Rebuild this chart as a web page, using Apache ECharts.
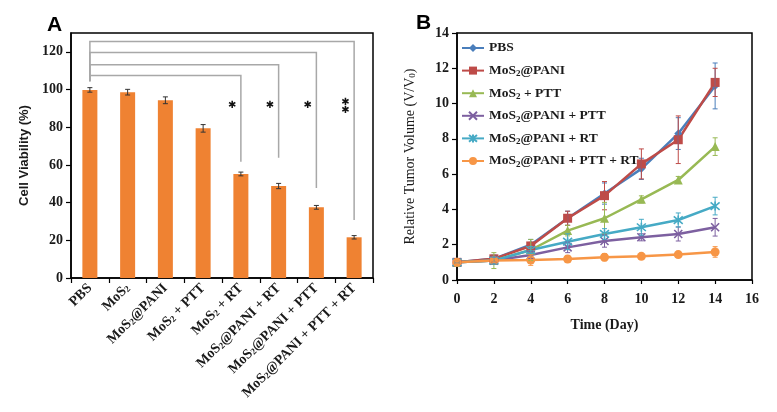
<!DOCTYPE html>
<html>
<head>
<meta charset="utf-8">
<script src="https://cdn.jsdelivr.net/npm/echarts@6/dist/echarts.min.js"></script>
<style>
  html, body { margin: 0; padding: 0; background: #fff; }
  #chart { width: 777px; height: 412px; }
</style>
</head>
<body>
<div id="chart"></div>
<script>
// Panel A: cell viability bars
const groupsA = ["PBS", "MoS2", "MoS2@PANI", "MoS2 + PTT", "MoS2 + RT",
  "MoS2@PANI + RT", "MoS2@PANI + PTT", "MoS2@PANI + PTT + RT"];
const viability = [99.8, 98.6, 94.3, 79.4, 55.2, 48.8, 37.5, 21.6];
const viabilityErr = [1.2, 1.5, 1.8, 2.0, 1.0, 1.4, 1.0, 0.9];
// significance brackets: [from, to, level, drop-to]
const brackets = [[0, 7, 125.5, 30.8], [0, 6, 119.6, 47.8], [0, 5, 113.2, 63.8], [0, 4, 107.4, 61.7]];
const bracketBase = 104.4;
// asterisks: [category, value, text]
const stars = [[4, 91.8, "✱"], [5, 91.8, "✱"], [6, 91.8, "✱"], [7, 93.1, "✱"], [7, 88.7, "✱"]];

// Panel B: relative tumor volume
const days = [0, 2, 4, 6, 8, 10, 12, 14];
const seriesNames = ["PBS", "MoS2@PANI", "MoS2 + PTT", "MoS2@PANI + PTT", "MoS2@PANI + RT", "MoS2@PANI + PTT + RT"];
const pbs = [1.0, 1.2, 2.0, 3.5, 4.9, 6.3, 8.3, 11.0];
const pbsErr = [0.05, 0.2, 0.3, 0.4, 0.6, 0.6, 0.9, 1.3];
const pani = [1.0, 1.2, 1.93, 3.5, 4.78, 6.58, 7.95, 11.2];
const paniErr = [0.05, 0.2, 0.2, 0.4, 0.8, 0.85, 1.35, 0.8];
const ptt = [1.0, 1.1, 1.7, 2.8, 3.5, 4.57, 5.67, 7.56];
const pttErr = [0.05, 0.45, 0.6, 0.3, 0.9, 0.2, 0.2, 0.5];
const paniPtt = [1.0, 1.1, 1.42, 1.85, 2.21, 2.42, 2.61, 2.99];
const paniPttErr = [0.05, 0.2, 0.2, 0.3, 0.35, 0.2, 0.4, 0.5];
const paniRt = [1.0, 1.1, 1.7, 2.17, 2.61, 2.99, 3.4, 4.19];
const paniRtErr = [0.05, 0.2, 0.2, 0.45, 0.3, 0.45, 0.4, 0.5];
const paniPttRt = [1.0, 1.1, 1.13, 1.19, 1.29, 1.34, 1.44, 1.59];
const paniPttRtErr = [0.05, 0.1, 0.3, 0.2, 0.2, 0.1, 0.1, 0.3];

const valuesB = [pbs, pani, ptt, paniPtt, paniRt, paniPttRt];
const errorsB = [pbsErr, paniErr, pttErr, paniPttErr, paniRtErr, paniPttRtErr];
const colorsB = ["#4a7ebb", "#be4b48", "#98b954", "#7d60a0", "#46aac5", "#f79646"];
const symbolsB = ["diamond", "rect", "triangle",
  "path://M0,0L10,10M10,0L0,10",
  "path://M0,0L10,10M10,0L0,10M5,-1L5,11",
  "circle"];
const symbolSizesB = [8, 9, 9, 8, 9, 9];

const SERIF = "Liberation Serif";
const SANS = "Liberation Sans";
const subify = (s) => s.replace(/MoS2/g, "MoS{s|2}");
const ink = "#1a1a1a";

const chart = echarts.init(document.getElementById("chart"));

function errorBars(xAxisIndex, yAxisIndex, data, color, cap, z) {
  return {
    type: "custom", xAxisIndex, yAxisIndex, z, silent: true, data,
    renderItem(params, api) {
      const x = api.value(0);
      const lo = api.coord([x, api.value(1)]);
      const hi = api.coord([x, api.value(2)]);
      const st = { stroke: color, lineWidth: 1 };
      return { type: "group", children: [
        { type: "line", shape: { x1: lo[0], y1: lo[1], x2: hi[0], y2: hi[1] }, style: st },
        { type: "line", shape: { x1: lo[0] - cap, y1: lo[1], x2: lo[0] + cap, y2: lo[1] }, style: st },
        { type: "line", shape: { x1: hi[0] - cap, y1: hi[1], x2: hi[0] + cap, y2: hi[1] }, style: st },
      ] };
    },
  };
}

const series = [
  { type: "bar", xAxisIndex: 0, yAxisIndex: 0, data: viability, barWidth: 15,
    itemStyle: { color: "#ef8232" }, silent: true },
  errorBars(0, 0, viability.map((v, i) => [i, v - viabilityErr[i], v + viabilityErr[i]]), "#333", 2.5, 5),
  { type: "custom", xAxisIndex: 0, yAxisIndex: 0, silent: true, z: 4, data: brackets,
    renderItem(params, api) {
      const a = api.coord([api.value(0), bracketBase]);
      const top = api.coord([api.value(0), api.value(2)]);
      const b = api.coord([api.value(1), api.value(2)]);
      const end = api.coord([api.value(1), api.value(3)]);
      return { type: "polyline", shape: { points: [a, top, b, end] },
        style: { stroke: "#a8a8a8", lineWidth: 1.5, fill: null } };
    } },
  // star marks sit a little left of each bracket's drop line
  { type: "custom", xAxisIndex: 0, yAxisIndex: 0, silent: true, z: 6, data: stars,
    renderItem(params, api) {
      const p = api.coord([api.value(0), api.value(1)]);
      const w = api.size([1, 0])[0];
      return { type: "text", x: p[0] - w * 0.23, y: p[1],
        style: { text: stars[params.dataIndex][2], fill: "#111",
          font: "bold 10px DejaVu Sans", align: "center", verticalAlign: "middle" } };
    } },
];

valuesB.forEach((vals, k) => {
  series.push({
    name: seriesNames[k], type: "line", xAxisIndex: 1, yAxisIndex: 1, z: 3,
    data: vals.map((v, i) => [days[i], v]),
    symbol: symbolsB[k], symbolSize: symbolSizesB[k], showAllSymbol: true,
    lineStyle: { color: colorsB[k], width: 2.5 },
    itemStyle: { color: colorsB[k], borderColor: colorsB[k], borderWidth: k === 3 || k === 4 ? 1.6 : 0 },
    animation: false,
  });
});
valuesB.forEach((vals, k) => {
  series.push(errorBars(1, 1, vals.map((v, i) => [days[i], v - errorsB[k][i], v + errorsB[k][i]]), colorsB[k], 2.5, 4));
});

const axisLine = { show: true, lineStyle: { color: "#000", width: 1.5 } };
const axisTick = { show: true, length: 5, lineStyle: { color: "#000", width: 1.2 } };
const tickFont = { fontFamily: SERIF, fontWeight: "bold", fontSize: 14, color: ink };

chart.setOption({
  animation: false,
  title: [
    { text: "A", left: 42, top: 10, textStyle: { fontFamily: SANS, fontWeight: "bold", fontSize: 21, color: "#000" } },
    { text: "B", left: 411, top: 8, textStyle: { fontFamily: SANS, fontWeight: "bold", fontSize: 21, color: "#000" } },
  ],
  grid: [
    { left: 71, top: 33, width: 302, height: 245, show: true, borderColor: "#000", borderWidth: 1.5 },
    { left: 457, top: 33, width: 295, height: 247, show: true, borderColor: "#000", borderWidth: 1.5 },
  ],
  legend: {
    data: seriesNames, orient: "vertical", left: 456, top: 35, itemWidth: 22, itemHeight: 10, itemGap: 6.6,
    formatter: (n) => subify(n),
    textStyle: { fontFamily: SERIF, fontWeight: "bold", fontSize: 13.5, color: ink, lineHeight: 16,
      rich: { s: { fontFamily: SERIF, fontWeight: "bold", fontSize: 9, lineHeight: 10, verticalAlign: "bottom", color: ink } } },
  },
  xAxis: [
    { type: "category", gridIndex: 0, data: groupsA, axisLine, axisTick,
      axisLabel: { interval: 0, rotate: 45, margin: 8, ...tickFont, formatter: (v) => subify(v),
        rich: { s: { fontFamily: SERIF, fontWeight: "bold", fontSize: 9, color: ink, verticalAlign: "bottom", lineHeight: 10 } } } },
    { type: "value", gridIndex: 1, min: 0, max: 16, interval: 2, axisLine,
      axisTick: { ...axisTick, length: 4 }, splitLine: { show: false },
      axisLabel: { ...tickFont, margin: 12 },
      name: "Time (Day)", nameLocation: "middle", nameGap: 38,
      nameTextStyle: { fontFamily: SERIF, fontWeight: "bold", fontSize: 14, color: ink } },
  ],
  yAxis: [
    { type: "value", gridIndex: 0, min: 0, max: 130, interval: 20, axisLine, axisTick,
      splitLine: { show: false }, axisLabel: { ...tickFont, margin: 8, showMaxLabel: false },
      name: "Cell Viability (%)", nameLocation: "middle", nameGap: 40,
      nameTextStyle: { fontFamily: SANS, fontWeight: "bold", fontSize: 13, color: ink } },
    { type: "value", gridIndex: 1, min: 0, max: 14, interval: 2, axisLine, axisTick,
      splitLine: { show: false }, axisLabel: { ...tickFont, margin: 8 },
      name: "Relative Tumor Volume (V/V{s|0})", nameLocation: "middle", nameGap: 40,
      nameTextStyle: { fontFamily: SERIF, fontSize: 14, color: ink,
        rich: { s: { fontFamily: SERIF, fontSize: 9, color: ink, verticalAlign: "bottom", lineHeight: 10 } } } },
  ],
  series,
});
</script>
</body>
</html>
